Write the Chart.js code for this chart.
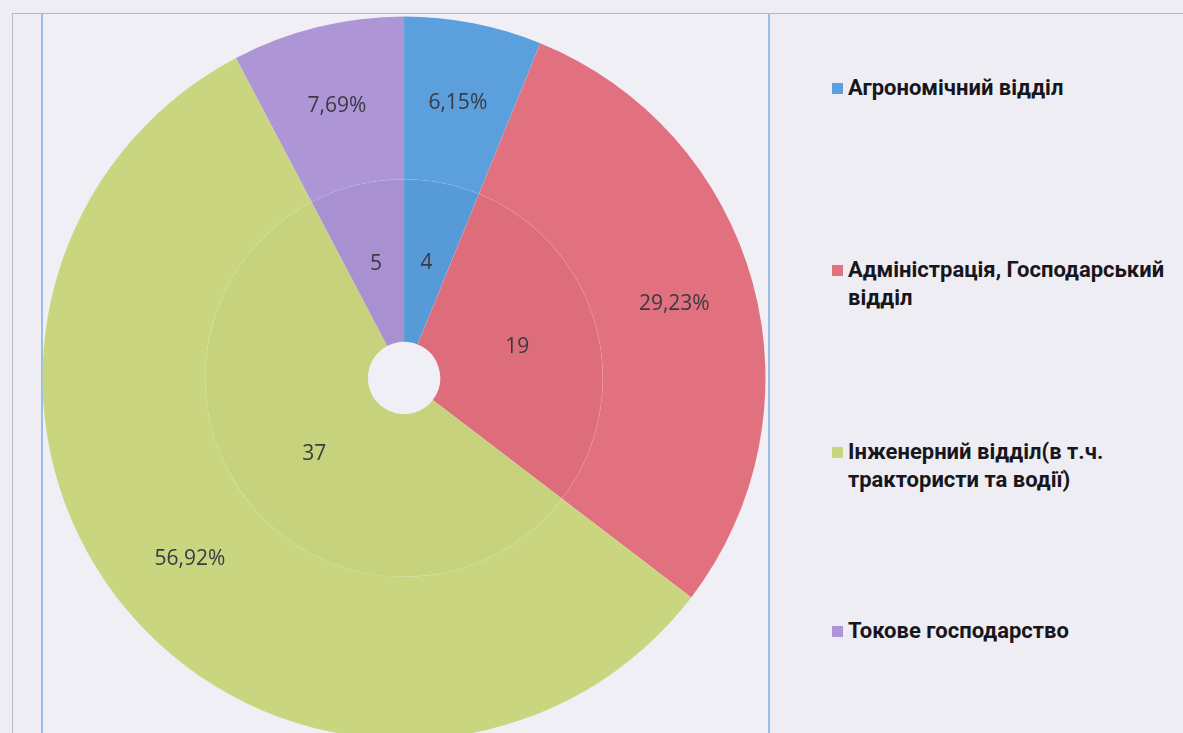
<!DOCTYPE html>
<html lang="uk">
<head>
<meta charset="utf-8">
<script src="https://cdn.jsdelivr.net/npm/chart.js@4/dist/chart.umd.min.js"></script>
<style>
  html, body { margin: 0; padding: 0; width: 1183px; height: 733px; overflow: hidden; background: #eeedf3; }
  .frame { position: absolute; left: 12px; top: 13px; width: 1200px; height: 760px; border-left: 1px solid #bdbbc2; border-top: 1px solid #b9b7be; }
  .plot { position: absolute; left: 41px; top: 14px; width: 725px; height: 760px; border-left: 2px solid #9dbde6; border-right: 2px solid #9dbde6; background: #f0eff5; }
  .chart-box { position: absolute; left: 42px; top: 16px; width: 724px; height: 724px; }
  .legend { position: absolute; left: 832px; font-family: Roboto, "Noto Sans", sans-serif; font-weight: bold; font-size: 22px; line-height: 28px; color: #17161c; }
  .legend .item { position: absolute; left: 0; white-space: nowrap; padding-left: 16px; }
  .legend .swatch { position: absolute; left: 0; top: 9px; width: 11px; height: 11px; }
</style>
</head>
<body>
<div class="frame"></div>
<div class="plot"></div>
<div class="chart-box"><canvas id="chart"></canvas></div>
<div class="legend" id="legend"></div>
<script>
const categories = [
  ["Агрономічний відділ"],
  ["Адміністрація, Господарський", "відділ"],
  ["Інженерний відділ(в т.ч.", "трактористи та водії)"],
  ["Токове господарство"]
];
const counts = [4, 19, 37, 5];
const percentLabels = ["6,15%", "29,23%", "56,92%", "7,69%"];
const outerColors = ["#5b9fdc", "#e1717f", "#c9d67f", "#ae95d6"];
const innerColors = ["#579ad8", "#dd6d7b", "#c6d37c", "#a990d1"];
const legendTops = [74, 256, 438, 617];

const sliceLabels = {
  id: "sliceLabels",
  afterDatasetsDraw(chart) {
    const ctx = chart.ctx;
    ctx.save();
    ctx.font = '21px "Open Sans", Roboto, sans-serif';
    ctx.fillStyle = "#3b3a42";
    ctx.textAlign = "center";
    ctx.textBaseline = "middle";
    chart.data.datasets.forEach((dataset, di) => {
      chart.getDatasetMeta(di).data.forEach((arc, i) => {
        const pos = arc.tooltipPosition();
        ctx.fillText(dataset.labelsText[i], pos.x, pos.y);
      });
    });
    ctx.restore();
  }
};

new Chart(document.getElementById("chart"), {
  type: "doughnut",
  data: {
    labels: categories.map(lines => lines.join(" ")),
    datasets: [
      { data: counts, backgroundColor: outerColors, borderWidth: 1, borderColor: "rgba(255,255,255,0.05)", labelsText: percentLabels },
      { data: counts, backgroundColor: innerColors, borderWidth: 1, borderColor: "rgba(255,255,255,0.05)", labelsText: counts.map(String) }
    ]
  },
  options: {
    responsive: true,
    maintainAspectRatio: false,
    animation: false,
    cutout: "10%",
    layout: { padding: 0 },
    plugins: { legend: { display: false }, tooltip: { enabled: false } }
  },
  plugins: [sliceLabels]
});

const legend = document.getElementById("legend");
categories.forEach((lines, i) => {
  const item = document.createElement("div");
  item.className = "item";
  item.style.top = legendTops[i] + "px";
  const swatch = document.createElement("span");
  swatch.className = "swatch";
  swatch.style.background = outerColors[i];
  item.appendChild(swatch);
  lines.forEach((line, j) => {
    if (j) item.appendChild(document.createElement("br"));
    item.appendChild(document.createTextNode(line));
  });
  legend.appendChild(item);
});
</script>
</body>
</html>
